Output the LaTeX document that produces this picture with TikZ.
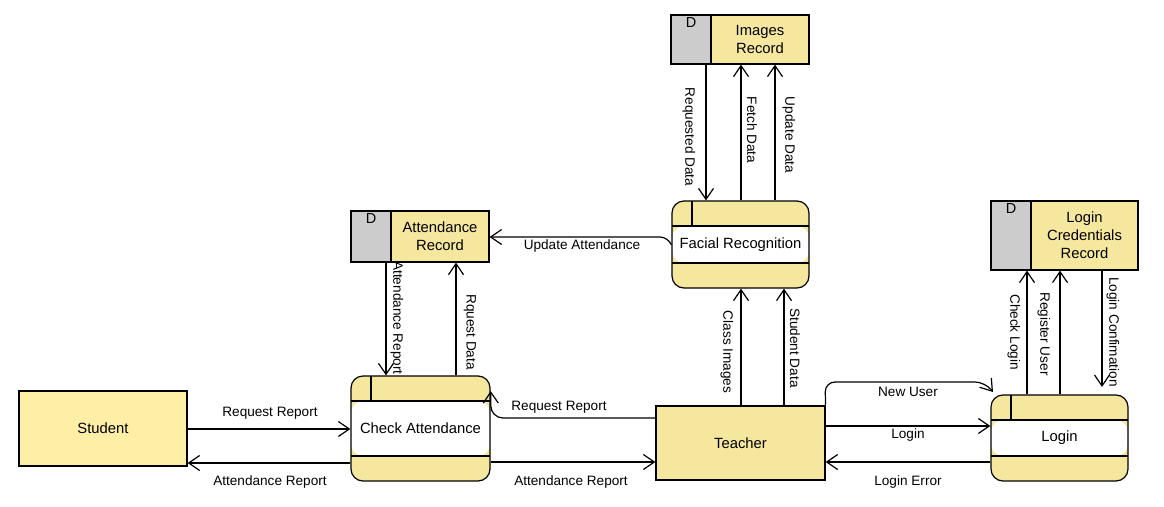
\documentclass[tikz,border=0pt]{standalone}
\usepackage{fontspec}
\setmainfont{Liberation Sans}
\usetikzlibrary{arrows.meta}
\definecolor{yel}{HTML}{F5E79E}
\definecolor{syel}{HTML}{FFEFA6}
\definecolor{dgray}{HTML}{CCCCCC}
\tikzset{
  ent/.style={draw, line width=1.2pt, font=\fontsize{14.8}{18}\selectfont, align=center, inner sep=0pt},
  process/.style={draw, line width=1.2pt, fill=yel, rounded corners=12pt, inner sep=0pt,
    font=\fontsize{14.8}{18}\selectfont, align=center,
    path picture={
      \fill[white] ([yshift=-25pt]path picture bounding box.north west) rectangle ([yshift=25pt]path picture bounding box.south east);
      \draw[line width=1.2pt] ([yshift=-25pt]path picture bounding box.north west) -- ([yshift=-25pt]path picture bounding box.north east);
      \draw[line width=1.2pt] ([yshift=25pt]path picture bounding box.south west) -- ([yshift=25pt]path picture bounding box.south east);
      \draw[line width=1.2pt] ([xshift=20pt]path picture bounding box.north west) -- ([xshift=20pt,yshift=-25pt]path picture bounding box.north west);
    }},
  storeD/.style={draw, line width=1.2pt, fill=dgray, inner sep=0pt},
  storeR/.style={draw, line width=1.2pt, fill=yel, inner sep=0pt, font=\fontsize{14.8}{18}\selectfont, align=center},
  dlbl/.style={anchor=north, inner sep=0pt, font=\fontsize{14.5}{18}\selectfont},
  lbl/.style={inner sep=1pt, font=\fontsize{13.6}{16}\selectfont},
  vlbl/.style={lbl, rotate=-90},
  flow/.style={line width=1.2pt, -{Straight Barb[length=11pt,width=15pt,line width=1.2pt]}, line join=miter},
}
\begin{document}
\begin{tikzpicture}[x=1pt, y=-1pt]
\useasboundingbox (0,0) rectangle (1164,506);

% external entities
\node[ent, fill=syel, minimum width=168pt, minimum height=75pt] (st) at (103,428.5) {Student};
\node[ent, fill=yel, minimum width=169pt, minimum height=74pt] (te) at (740.5,443) {Teacher};

% processes
\node[process, minimum width=139pt, minimum height=105pt] (ca) at (420.5,428.5) {Check Attendance};
\node[process, minimum width=137pt, minimum height=87pt] (fr) at (740.5,244.5) {Facial Recognition};
\node[process, minimum width=137pt, minimum height=86pt] (lg) at (1059.5,438) {Login};

% data stores
\node[storeD, minimum width=40pt, minimum height=49pt] (irD) at (691,39.5) {};
\node[storeR, minimum width=98pt, minimum height=49pt] (ir) at (760,39.5) {Images\\Record};
\node[dlbl] (irDt) at ([yshift=-3pt]irD.north) {D};

\node[storeD, minimum width=40pt, minimum height=51pt] (arD) at (371,236.5) {};
\node[storeR, minimum width=98pt, minimum height=51pt] (ar) at (440,236.5) {Attendance\\Record};
\node[dlbl] (arDt) at ([yshift=-3pt]arD.north) {D};

\node[storeD, minimum width=40pt, minimum height=69pt] (lcD) at (1011,235.5) {};
\node[storeR, minimum width=107pt, minimum height=69pt] (lc) at (1084.5,235.5) {Login\\Credentials\\Record};
\node[dlbl] (lcDt) at ([yshift=-3pt]lcD.north) {D};

% Student <-> Check Attendance
\draw[flow] (st.east |- 0,429) -- (ca.west |- 0,429);
\node[lbl] (l1) at (270,413) {Request Report};
\draw[flow] (ca.west |- 0,463) -- (st.east |- 0,463);
\node[lbl] (l2) at (270,482) {Attendance Report};

% Teacher <-> Check Attendance
\draw[flow, rounded corners=12pt] (te.west |- 0,418) -- (491,418) -- (ca.east |- 0,391);
\node[lbl] (l3) at (559,407) {Request Report};
\draw[flow] (ca.east |- 0,462) -- (te.west |- 0,462);
\node[lbl] (l4) at (571,482) {Attendance Report};

% Attendance Record <-> Check Attendance
\draw[flow] (ar.south -| 386,0) -- (ca.north -| 386,0);
\node[vlbl] (l5) at (397,318) {Attendance Report};
\draw[flow] (ca.north -| 456,0) -- (ar.south -| 456,0);
\node[vlbl] (l6) at (470,332) {Rquest Data};

% Facial Recognition -> Attendance Record
\draw[flow, rounded corners=8pt] (fr.west |- 0,245) -- (668,237) -- (ar.east |- 0,237);
\node[lbl] (l7) at (582,246) {Update Attendance};

% Images Record <-> Facial Recognition
\draw[flow] (irD.south -| 706,0) -- (fr.north -| 706,0);
\node[vlbl] (l8) at (689,137) {Requested Data};
\draw[flow] (fr.north -| 741,0) -- (ir.south -| 741,0);
\node[vlbl] (l9) at (752,130) {Fetch Data};
\draw[flow] (fr.north -| 775,0) -- (ir.south -| 775,0);
\node[vlbl] (l10) at (789,135) {Update Data};

% Teacher -> Facial Recognition
\draw[flow] (te.north -| 741,0) -- (fr.south -| 741,0);
\node[vlbl] (l11) at (727,352) {Class Images};
\draw[flow] (te.north -| 784,0) -- (fr.south -| 784,0);
\node[vlbl] (l12) at (795,348) {Student Data};

% Teacher <-> Login
\coordinate (nu) at (993,392);
\draw[flow, rounded corners=10pt] (te.north east) -- (825,382) -- (985,382) -- (nu);
\node[lbl] (l13) at (908,392) {New User};
\draw[flow] (te.east |- 0,426) -- (lg.west |- 0,426);
\node[lbl] (l14) at (908,435) {Login};
\draw[flow] (lg.west |- 0,462) -- (te.east |- 0,462);
\node[lbl] (l15) at (908,482) {Login Error};

% Login <-> Login Credentials Record
\draw[flow] (lg.north -| 1027,0) -- (lcD.south -| 1027,0);
\node[vlbl] (l16) at (1014,332) {Check Login};
\draw[flow] (lg.north -| 1060,0) -- (lc.south -| 1060,0);
\node[vlbl] (l17) at (1044,334) {Register User};
\coordinate (lcend) at (1102,387);
\draw[flow] (lc.south -| 1102,0) -- (lcend);
\node[vlbl] (l18) at (1113,332) {Login Confimation};
\end{tikzpicture}
\end{document}
